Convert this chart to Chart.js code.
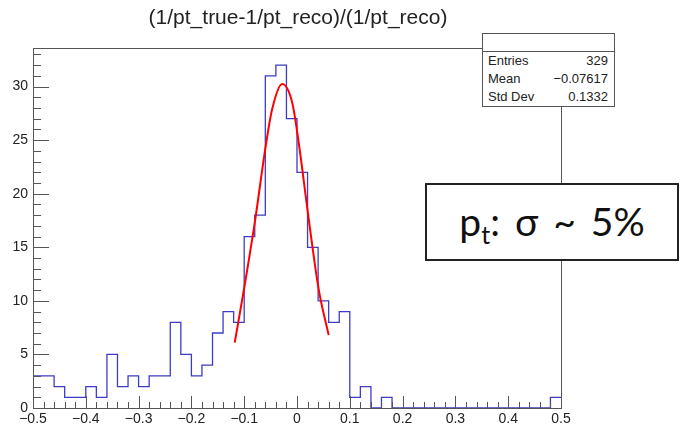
<!DOCTYPE html>
<html>
<head>
<meta charset="utf-8">
<script src="https://cdn.jsdelivr.net/npm/chart.js@4.4.1/dist/chart.umd.min.js"></script>
<style>
  html, body { margin: 0; padding: 0; background: #fff; }
  #wrap { position: relative; width: 680px; height: 426px; overflow: hidden; }
  #stats {
    position: absolute; left: 482px; top: 33px; width: 131px; height: 72px;
    border: 1px solid #555; background: #fff;
    font-family: "Liberation Sans", Arial, sans-serif; font-size: 13px; color: #222;
  }
  #stats .head { height: 17px; border-bottom: 1px solid #555; }
  #stats .row { display: flex; justify-content: space-between; padding: 0 6px 0 5px; height: 18px; line-height: 18px; }
  #ptbox {
    position: absolute; left: 425px; top: 183px; width: 250px; height: 74px;
    border: 2px solid #222; background: #fff;
    font-family: Lato, "Open Sans", sans-serif; font-size: 39px; color: #111;
    text-align: center; line-height: 72px; word-spacing: 5px;
  }
  #ptbox sub { font-size: 25px; vertical-align: -8px; line-height: 0; }
</style>
</head>
<body>
<div id="wrap">
  <canvas id="hist" width="680" height="426"></canvas>
  <div id="stats">
    <div class="head"></div>
    <div class="row"><span>Entries</span><span>329</span></div>
    <div class="row"><span>Mean</span><span>−0.07617</span></div>
    <div class="row"><span>Std Dev</span><span>0.1332</span></div>
  </div>
  <div id="ptbox">p<sub>t</sub>: σ ~ 5%</div>
</div>
<script>
// histogram: 50 bins of 0.02 from -0.5 to 0.5
var binLow = -0.5;
var binWidth = 0.02;
var counts = [3, 3, 2, 1, 1, 2, 1, 5, 2, 3,
              2, 3, 3, 8, 5, 3, 4, 7, 9, 8,
              16, 18, 31, 32, 27, 22, 15, 10, 8, 9,
              1, 2, 0, 1, 0, 0, 0, 0, 0, 0,
              0, 0, 0, 0, 0, 0, 0, 0, 0, 1];

// gaussian fit
var fitX = [-0.118, -0.10, -0.08, -0.06, -0.047, -0.028, -0.009, 0.002, 0.022, 0.041, 0.06];
var fitY = [6.1, 11.2, 17.3, 24.2, 27.9, 30.25, 28.5, 25.2, 17.7, 11.1, 6.8];

var titleText = '(1/pt_true-1/pt_reco)/(1/pt_reco)';

var histPts = counts.map(function (c, i) { return { x: binLow + i * binWidth, y: c }; });
histPts.push({ x: binLow + counts.length * binWidth, y: counts[counts.length - 1] });
var fitPts = fitX.map(function (x, i) { return { x: x, y: fitY[i] }; });

function fmt(v) {
  var s = (Math.abs(v) < 1e-9) ? '0' : v.toFixed(1);
  return s.replace('-', '\u2212');
}

// ROOT style frame with ticks inside + title
var rootFrame = {
  id: 'rootFrame',
  afterDatasetsDraw: function (chart) {
    var ctx = chart.ctx, a = chart.chartArea;
    var xs = chart.scales.x, ys = chart.scales.y;
    ctx.save();
    ctx.strokeStyle = '#555';
    ctx.lineWidth = 1;
    ctx.strokeRect(a.left + 0.5, a.top + 0.5, a.right - a.left, a.bottom - a.top);
    ctx.beginPath();
    for (var i = 0; i <= 50; i++) {
      var v = -0.5 + i * 0.02;
      var px = Math.round(xs.getPixelForValue(v)) + 0.5;
      var len = (i % 5 === 0) ? 12 : 6;
      ctx.moveTo(px, a.bottom);
      ctx.lineTo(px, a.bottom - len);
    }
    for (var j = 0; j <= 33; j++) {
      var py = Math.round(ys.getPixelForValue(j)) + 0.5;
      var l2 = (j % 5 === 0) ? 16 : 8;
      ctx.moveTo(a.left, py);
      ctx.lineTo(a.left + l2, py);
    }
    ctx.stroke();
    ctx.fillStyle = '#222';
    ctx.font = '21px "Liberation Sans", Arial, sans-serif';
    ctx.textAlign = 'center';
    ctx.textBaseline = 'middle';
    ctx.fillText(titleText, 298, 18);
    ctx.restore();
  }
};

new Chart(document.getElementById('hist'), {
  type: 'line',
  data: {
    datasets: [
      {
        data: fitPts,
        borderColor: '#ff0000',
        borderWidth: 2,
        pointRadius: 0,
        tension: 0.4,
        cubicInterpolationMode: 'monotone',
        fill: false
      },
      {
        data: histPts,
        borderColor: '#3c3cc8',
        borderWidth: 1.3,
        pointRadius: 0,
        stepped: 'before',
        fill: false
      }
    ]
  },
  options: {
    responsive: false,
    animation: false,
    layout: { padding: { left: 0, right: 119, top: 48, bottom: 0 } },
    plugins: { legend: { display: false }, tooltip: { enabled: false }, title: { display: false } },
    scales: {
      x: {
        type: 'linear', min: -0.5, max: 0.5,
        grid: { display: false, drawTicks: false },
        border: { display: false },
        ticks: {
          stepSize: 0.1, padding: 3, color: '#222', maxRotation: 0, autoSkip: false,
          font: { family: '"Liberation Sans", Arial, sans-serif', size: 14 },
          callback: function (v) { return fmt(v); }
        },
        afterFit: function (s) { s.height = 18; }
      },
      y: {
        min: 0, max: 33.6,
        grid: { display: false, drawTicks: false },
        border: { display: false },
        ticks: {
          stepSize: 5, padding: 5, color: '#222',
          font: { family: '"Liberation Sans", Arial, sans-serif', size: 14 },
          callback: function (v) { return (v % 5 === 0) ? String(v) : null; }
        },
        afterFit: function (s) { s.width = 33; }
      }
    }
  },
  plugins: [rootFrame]
});
</script>
</body>
</html>
